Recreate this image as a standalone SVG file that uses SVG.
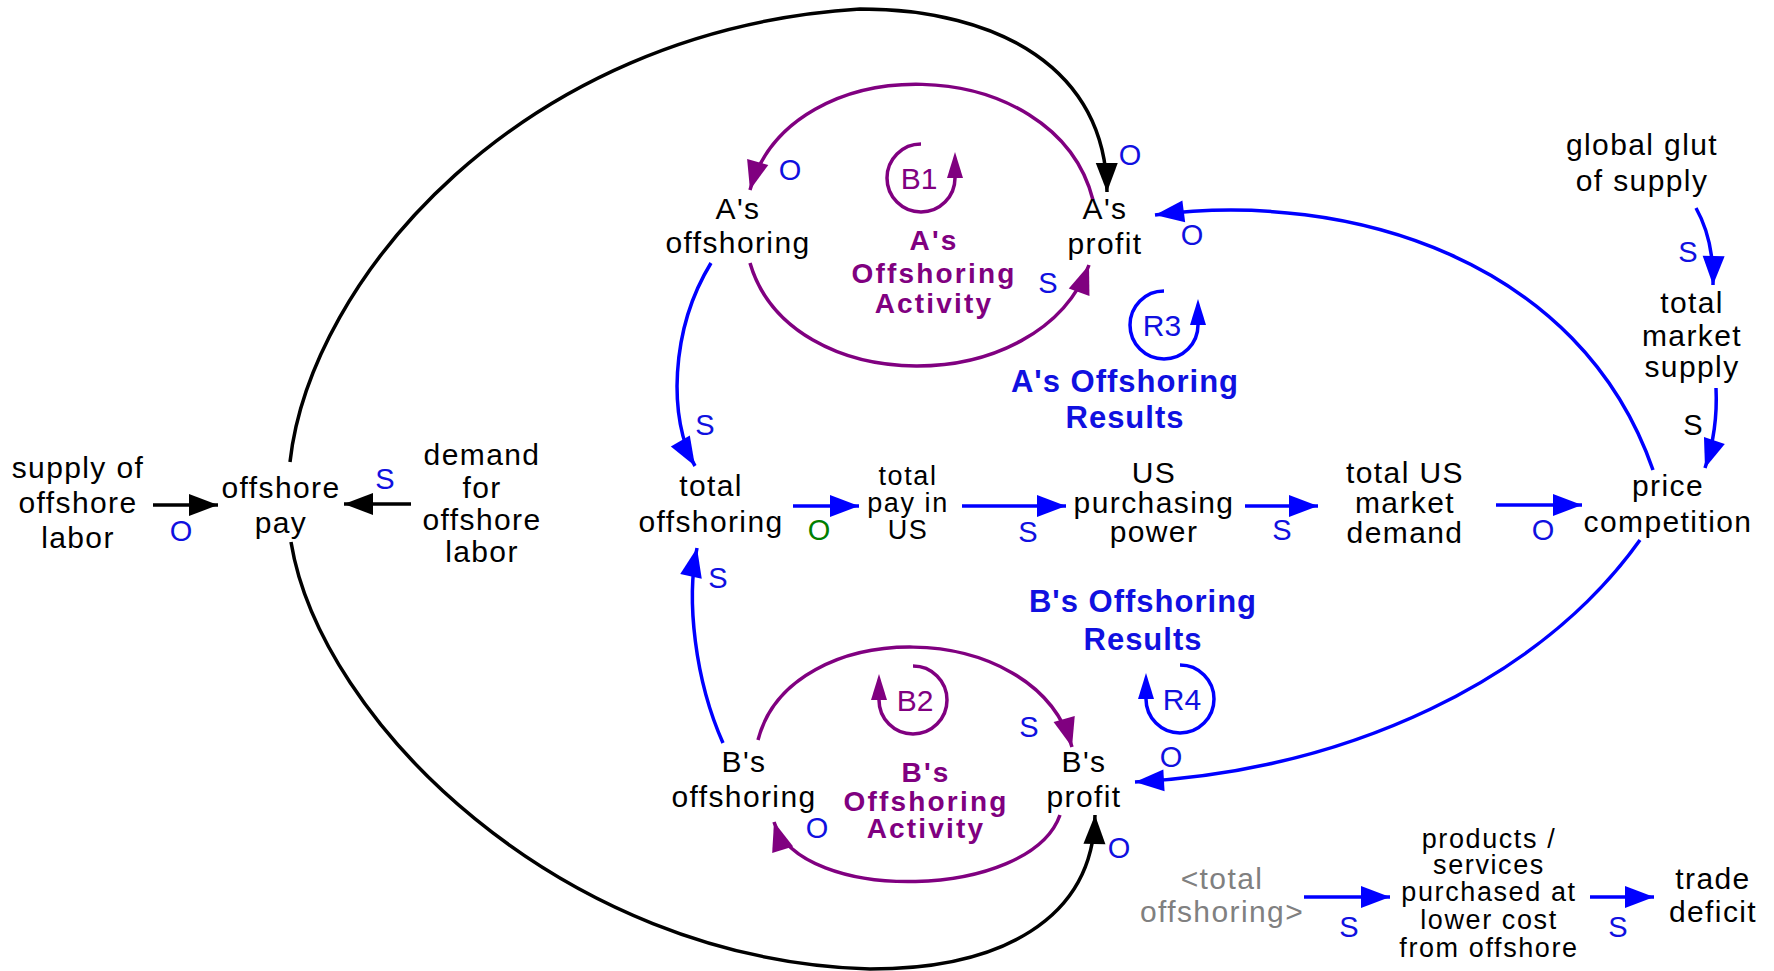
<svg xmlns="http://www.w3.org/2000/svg" width="1774" height="971" viewBox="0 0 1774 971">
<style>
.n{font-family:"Liberation Sans",Arial,sans-serif;font-size:30px;letter-spacing:1.4px;fill:#000;text-anchor:middle}
.s{font-size:27px;letter-spacing:1.6px}
.g{fill:#808080}
.lp{font-family:"Liberation Sans",Arial,sans-serif;font-size:31px;font-weight:bold;letter-spacing:1px;text-anchor:middle}
.la{font-size:28px;letter-spacing:2.2px}
.pu{fill:#800080}
.bl{fill:#1010e0}
.lb{font-family:"Liberation Sans",Arial,sans-serif;font-size:29px;text-anchor:middle}
.li{font-family:"Liberation Sans",Arial,sans-serif;font-size:30px;text-anchor:middle}
.ck{fill:none;stroke:#000;stroke-width:3.5;marker-end:url(#hk)}
.cb{fill:none;stroke:#0000ff;stroke-width:3.5;marker-end:url(#hb)}
.cp{fill:none;stroke:#800080;stroke-width:3.5;marker-end:url(#hp)}
.rp{fill:none;stroke:#800080;stroke-width:3.5;marker-end:url(#lp)}
.rb{fill:none;stroke:#0000ff;stroke-width:3.5;marker-end:url(#lbm)}
</style>
<defs>
<marker id="hk" viewBox="-32 -13 34 26" refX="0" refY="0" markerWidth="34" markerHeight="26" markerUnits="userSpaceOnUse" orient="auto"><path d="M0,0 L-29,-11 L-29,11 Z" fill="#000"/></marker>
<marker id="hb" viewBox="-32 -13 34 26" refX="0" refY="0" markerWidth="34" markerHeight="26" markerUnits="userSpaceOnUse" orient="auto"><path d="M0,0 L-29,-11 L-29,11 Z" fill="#0000ff"/></marker>
<marker id="hp" viewBox="-32 -13 34 26" refX="0" refY="0" markerWidth="34" markerHeight="26" markerUnits="userSpaceOnUse" orient="auto"><path d="M0,0 L-29,-11 L-29,11 Z" fill="#800080"/></marker>
<marker id="lp" viewBox="-2 -10 30 20" refX="0" refY="0" markerWidth="30" markerHeight="20" markerUnits="userSpaceOnUse" orient="auto"><path d="M0,-8 L26,0 L0,8 Z" fill="#800080"/></marker>
<marker id="lbm" viewBox="-2 -10 30 20" refX="0" refY="0" markerWidth="30" markerHeight="20" markerUnits="userSpaceOnUse" orient="auto"><path d="M0,-8 L26,0 L0,8 Z" fill="#0000ff"/></marker>
</defs>
<rect width="1774" height="971" fill="#fff"/>

<g id="connectors">
<path class="ck" d="M153,505 L218,505"/>
<path class="ck" d="M411,504 L344,504"/>
<path class="ck" d="M290,462 C310,280 520,30 860,9 C1000,9 1106,70 1107,192"/>
<path class="ck" d="M291,542 C320,720 560,960 870,969 C1000,969 1093,920 1095,815"/>
<path class="cb" d="M793,506 L859,506"/>
<path class="cb" d="M962,506 L1066,506"/>
<path class="cb" d="M1245,506 L1318,506"/>
<path class="cb" d="M1496,505 L1582,505"/>
<path class="cb" d="M1304,897 L1390,897"/>
<path class="cb" d="M1590,897 L1654,897"/>
<path class="cb" d="M1653,470 C1580,260 1350,190 1155,215"/>
<path class="cb" d="M1640,540 C1540,680 1350,770 1135,782"/>
<path class="cb" d="M711,263 C670,330 668,420 695,466"/>
<path class="cb" d="M723,743 C695,680 686,600 697,548"/>
<path class="cb" d="M1696,208 Q1714,240 1713,285"/>
<path class="cb" d="M1716,388 Q1718,430 1705,468"/>
<path class="cp" d="M1093,200 C1055,50 790,45 750,190"/>
<path class="cp" d="M750,263 C790,400 1040,400 1089,265"/>
<path class="cp" d="M758,740 C790,615 1035,615 1072,747"/>
<path class="cp" d="M1060,815 C1030,900 800,905 774,822"/>
</g>

<g id="polarity">
<text class="lb bl" x="181" y="541">O</text>
<text class="lb bl" x="385" y="489">S</text>
<text class="lb bl" x="790" y="180">O</text>
<text class="lb bl" x="1048" y="293">S</text>
<text class="lb bl" x="1130" y="165">O</text>
<text class="lb bl" x="1192" y="245">O</text>
<text class="lb bl" x="1688" y="262">S</text>
<text class="lb" x="1693" y="435">S</text>
<text class="lb bl" x="705" y="435">S</text>
<text class="lb bl" x="718" y="588">S</text>
<text class="lb" x="819" y="540" fill="#008000">O</text>
<text class="lb bl" x="1028" y="542">S</text>
<text class="lb bl" x="1282" y="540">S</text>
<text class="lb bl" x="1543" y="540">O</text>
<text class="lb bl" x="1029" y="737">S</text>
<text class="lb bl" x="817" y="838">O</text>
<text class="lb bl" x="1171" y="767">O</text>
<text class="lb bl" x="1119" y="858">O</text>
<text class="lb bl" x="1349" y="937">S</text>
<text class="lb bl" x="1618" y="937">S</text>
</g>

<g id="loop-B1">
<path class="rp" d="M921,144 A34,34 0 1,0 955,178"/>
<text class="li pu" x="919" y="189">B1</text>
<text class="lp la pu" x="934" y="250">A's</text>
<text class="lp la pu" x="934" y="283">Offshoring</text>
<text class="lp la pu" x="934" y="313">Activity</text>
</g>
<g id="loop-R3">
<path class="rb" d="M1164,291 A34,34 0 1,0 1198,325"/>
<text class="li bl" x="1162" y="336">R3</text>
<text class="lp bl" x="1125" y="392">A's Offshoring</text>
<text class="lp bl" x="1125" y="428">Results</text>
</g>
<g id="loop-B2">
<path class="rp" d="M913,666 A34,34 0 1,1 879,700"/>
<text class="li pu" x="915" y="711">B2</text>
<text class="lp la pu" x="926" y="782">B's</text>
<text class="lp la pu" x="926" y="811">Offshoring</text>
<text class="lp la pu" x="926" y="838">Activity</text>
</g>
<g id="loop-R4">
<path class="rb" d="M1180,665 A34,34 0 1,1 1146,699"/>
<text class="li bl" x="1182" y="710">R4</text>
<text class="lp bl" x="1143" y="612">B's Offshoring</text>
<text class="lp bl" x="1143" y="650">Results</text>
</g>

<g id="supply-of-offshore-labor"><text class="n" x="78" y="478">supply of</text><text class="n" x="78" y="513">offshore</text><text class="n" x="78" y="548">labor</text></g>
<g id="offshore-pay"><text class="n" x="281" y="498">offshore</text><text class="n" x="281" y="533">pay</text></g>
<g id="demand-for-offshore-labor"><text class="n" x="482" y="465">demand</text><text class="n" x="482" y="498">for</text><text class="n" x="482" y="530">offshore</text><text class="n" x="482" y="562">labor</text></g>
<g id="as-offshoring"><text class="n" x="738" y="219">A's</text><text class="n" x="738" y="253">offshoring</text></g>
<g id="as-profit"><text class="n" x="1105" y="219">A's</text><text class="n" x="1105" y="254">profit</text></g>
<g id="global-glut-of-supply"><text class="n" x="1642" y="155">global glut</text><text class="n" x="1642" y="191">of supply</text></g>
<g id="total-market-supply"><text class="n" x="1692" y="313">total</text><text class="n" x="1692" y="346">market</text><text class="n" x="1692" y="377">supply</text></g>
<g id="total-offshoring"><text class="n" x="711" y="496">total</text><text class="n" x="711" y="532">offshoring</text></g>
<g id="total-pay-in-us"><text class="n s" x="908" y="485">total</text><text class="n s" x="908" y="512">pay in</text><text class="n s" x="908" y="539">US</text></g>
<g id="us-purchasing-power"><text class="n" x="1154" y="483">US</text><text class="n" x="1154" y="513">purchasing</text><text class="n" x="1154" y="542">power</text></g>
<g id="total-us-market-demand"><text class="n" x="1405" y="483">total US</text><text class="n" x="1405" y="513">market</text><text class="n" x="1405" y="543">demand</text></g>
<g id="price-competition"><text class="n" x="1668" y="496">price</text><text class="n" x="1668" y="532">competition</text></g>
<g id="bs-offshoring"><text class="n" x="744" y="772">B's</text><text class="n" x="744" y="807">offshoring</text></g>
<g id="bs-profit"><text class="n" x="1084" y="772">B's</text><text class="n" x="1084" y="807">profit</text></g>
<g id="total-offshoring-shadow"><text class="n g" x="1222" y="889">&lt;total</text><text class="n g" x="1222" y="922">offshoring&gt;</text></g>
<g id="products-services"><text class="n s" x="1489" y="848">products /</text><text class="n s" x="1489" y="874">services</text><text class="n s" x="1489" y="901">purchased at</text><text class="n s" x="1489" y="929">lower cost</text><text class="n s" x="1489" y="957">from offshore</text></g>
<g id="trade-deficit"><text class="n" x="1713" y="889">trade</text><text class="n" x="1713" y="922">deficit</text></g>
</svg>
